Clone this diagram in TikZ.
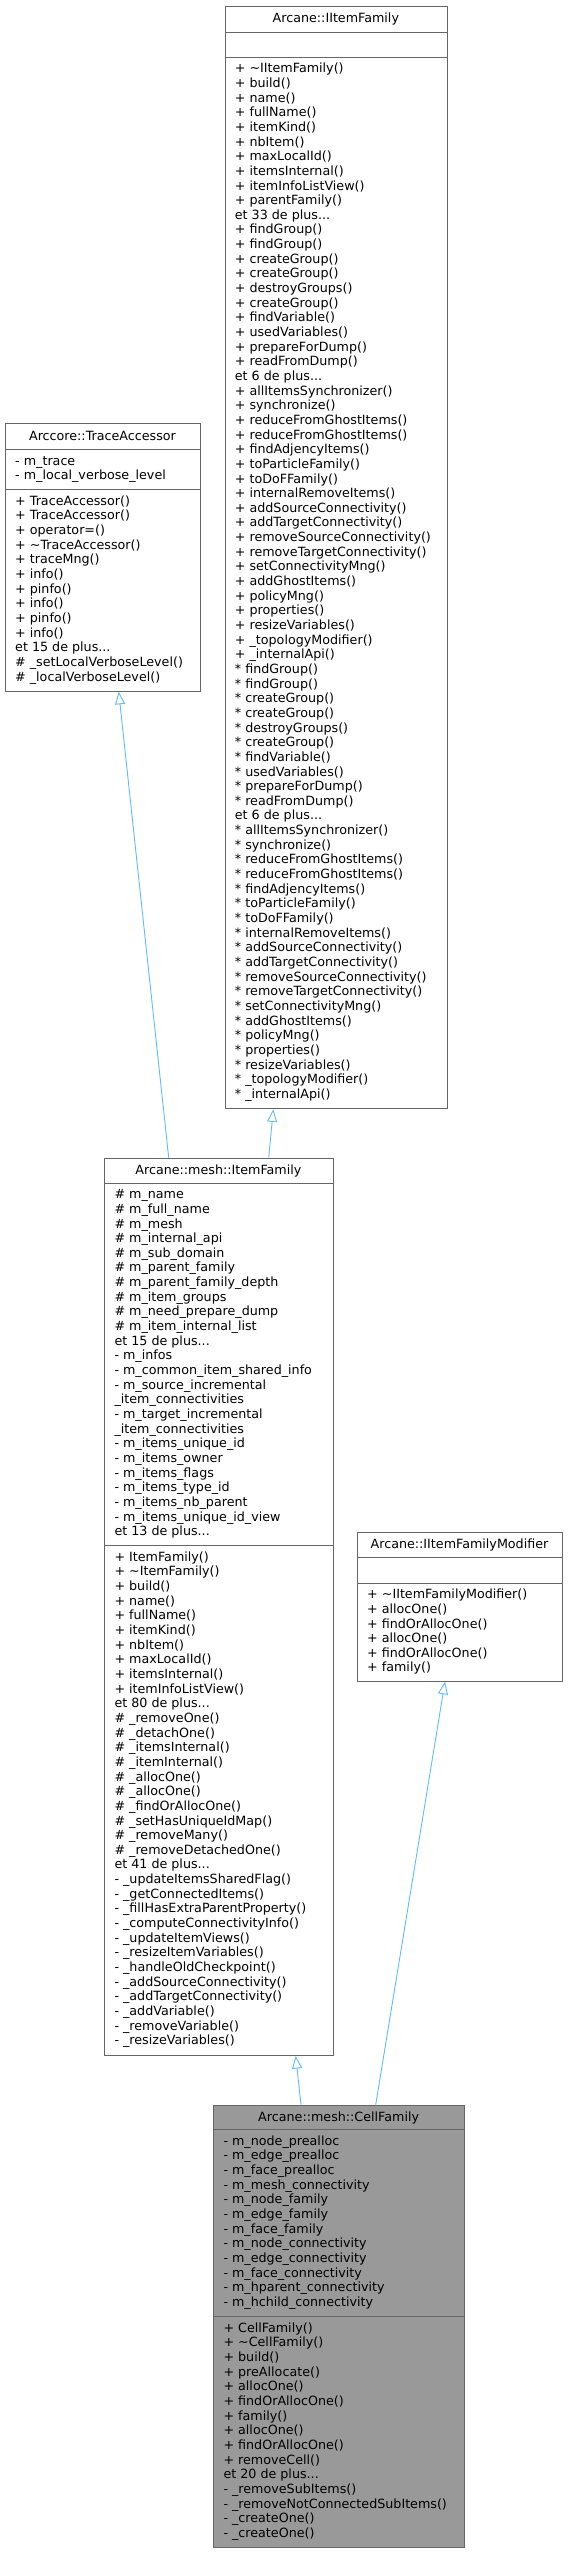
\documentclass[tikz,border=0pt]{standalone}
\usepackage{fontspec}
\setmainfont{DejaVu Sans}
\usetikzlibrary{arrows.meta,calc}
\definecolor{edgeblue}{HTML}{63B8FF}
\definecolor{boxborder}{HTML}{666666}
\definecolor{cellfill}{HTML}{999999}
\newcommand{\tl}{\textasciitilde}
\newcommand{\dd}{...}
\begin{document}
\begin{tikzpicture}[x=1pt,y=-1pt,
  every node/.style={font=\fontsize{12.7}{14.65}\selectfont},
  cls/.style={draw=boxborder, line width=0.9pt, fill=white, inner sep=0pt, anchor=north west},
  clsg/.style={cls, fill=cellfill},
  mline/.style={anchor=base west, inner sep=0pt},
  ttl/.style={anchor=base, inner sep=0pt},
  inh/.style={draw=edgeblue, line width=0.9pt, -{Triangle[open, length=12.7pt, width=10pt]}}]
\useasboundingbox (0,0) rectangle (568,2553);

% ---------------- Arcane::IItemFamily
\node[cls, minimum width=222.3pt, minimum height=26pt] (iif-t) at (224.7,5.7) {};
\node[cls, minimum width=222.3pt, minimum height=25pt] (iif-a) at (224.7,31.7) {};
\node[cls, minimum width=222.3pt, minimum height=1051.6pt] (iif-m) at (224.7,56.7) {};
\node[ttl] (iif-name) at (335.85,22.7) {Arcane::IItemFamily};
\foreach \t [count=\i from 0] in {
+ \tl IItemFamily(), + build(), + name(), + fullName(), + itemKind(), + nbItem(),
+ maxLocalId(), + itemsInternal(), + itemInfoListView(), + parentFamily(),
et 33 de plus\dd, + findGroup(), + findGroup(), + createGroup(), + createGroup(),
+ destroyGroups(), + createGroup(), + findVariable(), + usedVariables(),
+ prepareForDump(), + readFromDump(), et 6 de plus\dd, + allItemsSynchronizer(),
+ synchronize(), + reduceFromGhostItems(), + reduceFromGhostItems(),
+ findAdjencyItems(), + toParticleFamily(), + toDoFFamily(), + internalRemoveItems(),
+ addSourceConnectivity(), + addTargetConnectivity(), + removeSourceConnectivity(),
+ removeTargetConnectivity(), + setConnectivityMng(), + addGhostItems(),
+ policyMng(), + properties(), + resizeVariables(), + \_topologyModifier(),
+ \_internalApi(), * findGroup(), * findGroup(), * createGroup(), * createGroup(),
* destroyGroups(), * createGroup(), * findVariable(), * usedVariables(),
* prepareForDump(), * readFromDump(), et 6 de plus\dd, * allItemsSynchronizer(),
* synchronize(), * reduceFromGhostItems(), * reduceFromGhostItems(),
* findAdjencyItems(), * toParticleFamily(), * toDoFFamily(), * internalRemoveItems(),
* addSourceConnectivity(), * addTargetConnectivity(), * removeSourceConnectivity(),
* removeTargetConnectivity(), * setConnectivityMng(), * addGhostItems(),
* policyMng(), * properties(), * resizeVariables(), * \_topologyModifier(),
* \_internalApi()}
  \node[mline] (iif-m\i) at (234.7,72.8+\i*14.65) {\t};

% ---------------- Arccore::TraceAccessor
\node[cls, minimum width=195pt, minimum height=26pt] (ta-t) at (5,423.3) {};
\node[cls, minimum width=195pt, minimum height=40pt] (ta-a) at (5,449.3) {};
\node[cls, minimum width=195pt, minimum height=201.4pt] (ta-m) at (5,489.3) {};
\node[ttl] (ta-name) at (102.5,440.3) {Arccore::TraceAccessor};
\foreach \t [count=\i from 0] in {- m\_trace, - m\_local\_verbose\_level}
  \node[mline] (ta-a\i) at (15,465.3+\i*14.65) {\t};
\foreach \t [count=\i from 0] in {
+ TraceAccessor(), + TraceAccessor(), + operator=(), + \tl TraceAccessor(),
+ traceMng(), + info(), + pinfo(), + info(), + pinfo(), + info(),
et 15 de plus\dd, \# \_setLocalVerboseLevel(), \# \_localVerboseLevel()}
  \node[mline] (ta-m\i) at (15,505.3+\i*14.65) {\t};

% ---------------- Arcane::mesh::ItemFamily
\node[cls, minimum width=228.2pt, minimum height=25pt] (if-t) at (104.3,1157.7) {};
\node[cls, minimum width=228.2pt, minimum height=362.6pt] (if-a) at (104.3,1182.7) {};
\node[cls, minimum width=228.2pt, minimum height=509.7pt] (if-m) at (104.3,1545.3) {};
\node[ttl] (if-name) at (218.4,1174.7) {Arcane::mesh::ItemFamily};
\foreach \t [count=\i from 0] in {
\# m\_name, \# m\_full\_name, \# m\_mesh, \# m\_internal\_api, \# m\_sub\_domain,
\# m\_parent\_family, \# m\_parent\_family\_depth, \# m\_item\_groups,
\# m\_need\_prepare\_dump, \# m\_item\_internal\_list, et 15 de plus\dd,
- m\_infos, - m\_common\_item\_shared\_info, - m\_source\_incremental,
\_item\_connectivities, - m\_target\_incremental, \_item\_connectivities,
- m\_items\_unique\_id, - m\_items\_owner, - m\_items\_flags, - m\_items\_type\_id,
- m\_items\_nb\_parent, - m\_items\_unique\_id\_view, et 13 de plus\dd}
  \node[mline] (if-a\i) at (114.3,1198.7+\i*14.65) {\t};
\foreach \t [count=\i from 0] in {
+ ItemFamily(), + \tl ItemFamily(), + build(), + name(), + fullName(), + itemKind(),
+ nbItem(), + maxLocalId(), + itemsInternal(), + itemInfoListView(), et 80 de plus\dd,
\# \_removeOne(), \# \_detachOne(), \# \_itemsInternal(), \# \_itemInternal(),
\# \_allocOne(), \# \_allocOne(), \# \_findOrAllocOne(), \# \_setHasUniqueIdMap(),
\# \_removeMany(), \# \_removeDetachedOne(), et 41 de plus\dd,
- \_updateItemsSharedFlag(), - \_getConnectedItems(), - \_fillHasExtraParentProperty(),
- \_computeConnectivityInfo(), - \_updateItemViews(), - \_resizeItemVariables(),
- \_handleOldCheckpoint(), - \_addSourceConnectivity(), - \_addTargetConnectivity(),
- \_addVariable(), - \_removeVariable(), - \_resizeVariables()}
  \node[mline] (if-m\i) at (114.3,1561.3+\i*14.65) {\t};

% ---------------- Arcane::IItemFamilyModifier
\node[cls, minimum width=205pt, minimum height=25.6pt] (ifm-t) at (357,1531.7) {};
\node[cls, minimum width=205pt, minimum height=25.4pt] (ifm-a) at (357,1557.3) {};
\node[cls, minimum width=205pt, minimum height=98pt] (ifm-m) at (357,1582.7) {};
\node[ttl] (ifm-name) at (459.5,1548.7) {Arcane::IItemFamilyModifier};
\foreach \t [count=\i from 0] in {
+ \tl IItemFamilyModifier(), + allocOne(), + findOrAllocOne(), + allocOne(),
+ findOrAllocOne(), + family()}
  \node[mline] (ifm-m\i) at (367,1598.7+\i*14.65) {\t};

% ---------------- Arcane::mesh::CellFamily
\node[clsg, minimum width=250.7pt, minimum height=24.6pt] (cf-t) at (213.3,2104.7) {};
\node[clsg, minimum width=250.7pt, minimum height=187pt] (cf-a) at (213.3,2129.3) {};
\node[clsg, minimum width=250.7pt, minimum height=230.4pt] (cf-m) at (213.3,2316.3) {};
\node[ttl] (cf-name) at (338.65,2121.7) {Arcane::mesh::CellFamily};
\foreach \t [count=\i from 0] in {
- m\_node\_prealloc, - m\_edge\_prealloc, - m\_face\_prealloc, - m\_mesh\_connectivity,
- m\_node\_family, - m\_edge\_family, - m\_face\_family, - m\_node\_connectivity,
- m\_edge\_connectivity, - m\_face\_connectivity, - m\_hparent\_connectivity,
- m\_hchild\_connectivity}
  \node[mline] (cf-a\i) at (223.3,2145.3+\i*14.65) {\t};
\foreach \t [count=\i from 0] in {
+ CellFamily(), + \tl CellFamily(), + build(), + preAllocate(), + allocOne(),
+ findOrAllocOne(), + family(), + allocOne(), + findOrAllocOne(), + removeCell(),
et 20 de plus\dd, - \_removeSubItems(), - \_removeNotConnectedSubItems(),
- \_createOne(), - \_createOne()}
  \node[mline] (cf-m\i) at (223.3,2332.3+\i*14.65) {\t};

% ---------------- inheritance connectors
\coordinate (if-up1) at ($(if-t.north west)+(64.4,0)$);
\coordinate (ta-in) at ($(ta-m.south west)+(113.7,0)$);
\coordinate (if-up2) at ($(if-t.north west)+(164.4,0)$);
\coordinate (iif-in) at ($(iif-m.south west)+(48.6,0)$);
\coordinate (cf-up1) at ($(cf-t.north west)+(87.7,0)$);
\coordinate (if-in) at ($(if-m.south west)+(191.4,0)$);
\coordinate (cf-up2) at ($(cf-t.north west)+(162.4,0)$);
\coordinate (ifm-in) at ($(ifm-m.south west)+(88,0)$);
\draw[inh] (if-up1) -- (ta-in);
\draw[inh] (if-up2) -- (iif-in);
\draw[inh] (cf-up1) -- (if-in);
\draw[inh] (cf-up2) -- (ifm-in);
\end{tikzpicture}
\end{document}
